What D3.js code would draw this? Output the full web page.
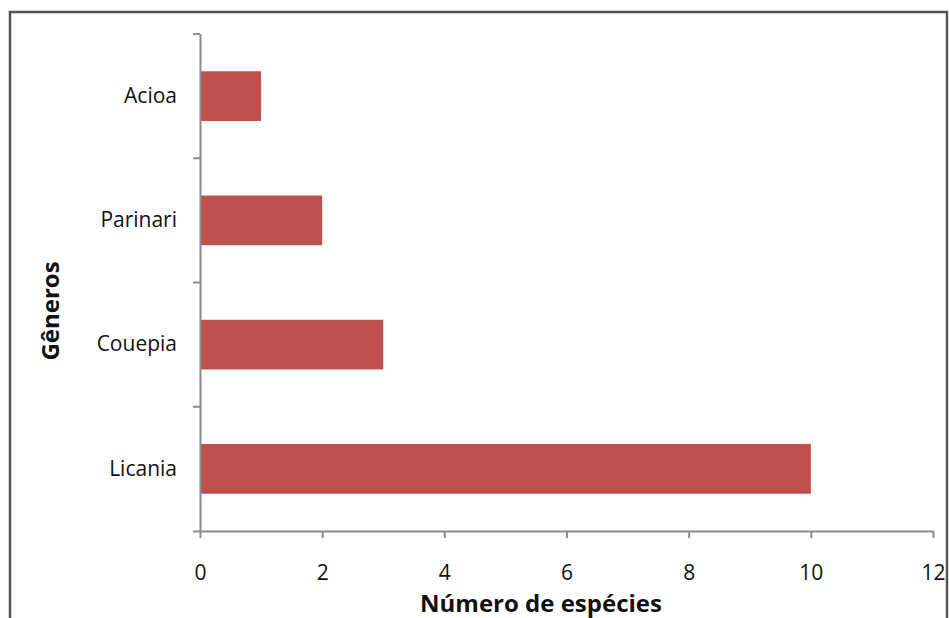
<!DOCTYPE html>
<html>
<head>
<meta charset="utf-8">
<script src="https://cdn.jsdelivr.net/npm/d3@7/dist/d3.min.js"></script>
<style>
  html, body { margin: 0; padding: 0; background: #fff; }
  svg { display: block; font-family: "Open Sans", sans-serif; }
  .axis path, .axis line { stroke: #8c8c8c; stroke-width: 2; }
  .axis text { fill: #111; font-size: 21px; font-family: "Open Sans", sans-serif; }
</style>
</head>
<body>
<svg id="chart" width="949" height="618"></svg>
<script>
// genera, top to bottom
const genera = ['Acioa', 'Parinari', 'Couepia', 'Licania']
const especies = [1, 2, 3, 10]
const xTicks = [0, 2, 4, 6, 8, 10, 12]

const svg = d3.select('#chart')
const plot = { left: 200, right: 933, top: 34, bottom: 531 }

// outer frame
svg.append('rect')
  .attr('x', 10).attr('y', 12)
  .attr('width', 937).attr('height', 620)
  .attr('fill', 'none')
  .attr('stroke', '#555')
  .attr('stroke-width', 2.5)

const x = d3.scaleLinear().domain([0, 12]).range([plot.left, plot.right])
const y = d3.scaleBand().domain(genera).range([plot.top, plot.bottom])

const g = svg.append('g')

// bars
g.selectAll('.bar')
  .data(genera)
  .enter().append('rect')
  .attr('class', 'bar')
  .attr('x', x(0))
  .attr('y', d => y(d) + y.bandwidth() * 0.3)
  .attr('width', (d, i) => x(especies[i]) - x(0))
  .attr('height', y.bandwidth() * 0.4)
  .attr('fill', '#c0504d')

// x axis
const xAxis = g.append('g')
  .attr('class', 'axis')
  .attr('transform', `translate(0,${plot.bottom})`)
  .call(d3.axisBottom(x).tickValues(xTicks).tickSize(7).tickSizeOuter(0).tickPadding(27))
xAxis.select('.domain').attr('d', `M${plot.left - 7},0.5H${plot.right}`)

// y axis, ticks on the category boundaries
const yAxis = g.append('g')
  .attr('class', 'axis')
  .attr('transform', `translate(${plot.left},0)`)
  .call(d3.axisLeft(y).tickSize(0).tickPadding(23))
yAxis.select('.domain').attr('d', `M0.5,${plot.top}V${plot.bottom}`)
const bounds = genera.map(d => y(d))
yAxis.selectAll('.bound')
  .data(bounds)
  .enter().append('line')
  .attr('class', 'bound')
  .attr('x1', -7).attr('x2', 0)
  .attr('y1', d => d).attr('y2', d => d)

// titles
svg.append('text')
  .attr('x', 541)
  .attr('y', 612)
  .attr('text-anchor', 'middle')
  .attr('font-size', 24)
  .attr('font-weight', 'bold')
  .attr('fill', '#111')
  .text('Número de espécies')

svg.append('text')
  .attr('transform', `translate(59,311) rotate(-90)`)
  .attr('text-anchor', 'middle')
  .attr('font-size', 24)
  .attr('font-weight', 'bold')
  .attr('fill', '#111')
  .text('Gêneros')
</script>
</body>
</html>
